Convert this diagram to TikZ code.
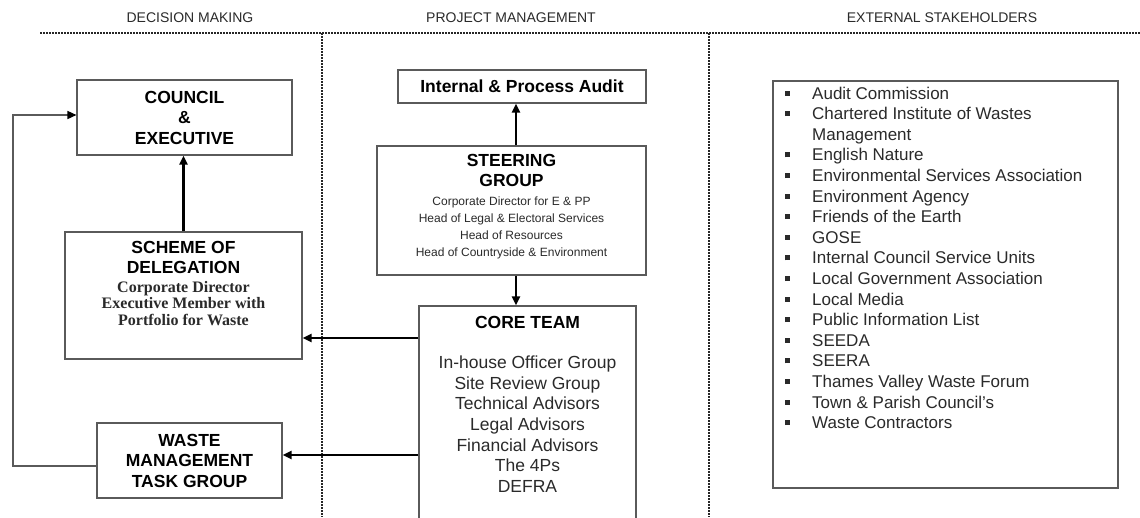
\documentclass[tikz,border=0pt]{standalone}
\usepackage{fontspec}
\setmainfont{Liberation Sans}
\newfontfamily\serifbf{Liberation Serif}
\usetikzlibrary{arrows.meta,calc}
\definecolor{boxgray}{HTML}{5A5A5A}
\definecolor{txtgray}{HTML}{2A2A2A}
\tikzset{
  box/.style={draw=boxgray, line width=1.1pt, rectangle, inner sep=0pt},
  bigtitle/.style={font=\bfseries\fontsize{17.5}{20.5}\selectfont, align=center, text=black, inner sep=0pt},
  plainlist/.style={font=\fontsize{17.5}{20.67}\selectfont, align=center, text=txtgray, inner sep=0pt},
  smalllist/.style={font=\fontsize{12}{17}\selectfont, align=center, text=txtgray, inner sep=0pt},
  serlist/.style={font=\serifbf\bfseries\fontsize{16}{16.5}\selectfont, align=center, text=txtgray, inner sep=0pt},
  header/.style={font=\fontsize{14}{16}\selectfont, text=txtgray, inner sep=0pt},
  sep/.style={draw=black!85, line width=1.4pt, dash pattern=on 2pt off 1pt},
  arr/.style={draw=black, line width=2.8pt, -{Triangle[length=9pt,width=8pt]}},
  fb/.style={draw=boxgray, line width=1.5pt, -{Triangle[length=9pt,width=8pt,fill=black,color=black]}},
}
\begin{document}
\begin{tikzpicture}[x=1pt,y=-1pt]
\useasboundingbox (0,0) rectangle (1140,517);
\clip (0,0) rectangle (1140,517);
\fill[white] (0,0) rectangle (1140,517);

% headers and separators
\node[header] (h1) at (190,18) {DECISION MAKING};
\node[header] (h2) at (511,18) {PROJECT MANAGEMENT};
\node[header] (h3) at (942,18) {EXTERNAL STAKEHOLDERS};
\coordinate (sL) at (40,33);
\coordinate (sR) at (1140,33);
\coordinate (v1t) at (322,33);
\coordinate (v1b) at (322,517);
\coordinate (v2t) at (709,33);
\coordinate (v2b) at (709,517);
\draw[sep] (sL) -- (sR);
\draw[sep] (v1t) -- (v1b);
\draw[sep] (v2t) -- (v2b);

% decision making column
\node[box, minimum width=215, minimum height=75] (council) at (184.5,117.5) {};
\node[bigtitle] (councilt) at (council.center) {COUNCIL\\\&\\EXECUTIVE};

\node[box, minimum width=237, minimum height=127] (scheme) at (183.5,295.5) {};
\node[bigtitle, font=\bfseries\fontsize{17.5}{20}\selectfont] (schemet) at (183.5,257) {SCHEME OF\\DELEGATION};
\node[serlist] (schemes) at (183.5,303.5) {Corporate Director\\Executive Member with\\Portfolio for Waste};

\node[box, minimum width=185, minimum height=75] (waste) at (189.5,460.5) {};
\node[bigtitle] (wastet) at (waste.center) {WASTE\\MANAGEMENT\\TASK GROUP};

% project management column
\node[box, minimum width=248, minimum height=33] (audit) at (522,86.5) {};
\node[bigtitle] (auditt) at (audit.center) {Internal \& Process Audit};

\node[box, minimum width=269, minimum height=129] (steer) at (511.5,210.5) {};
\node[bigtitle, font=\bfseries\fontsize{17.5}{20}\selectfont] (steert) at (511.5,170) {STEERING\\GROUP};
\node[smalllist] (steers) at (511.5,227.5) {Corporate Director for E \& PP\\Head of Legal \& Electoral Services\\Head of Resources\\Head of Countryside \& Environment};

\node[box, minimum width=217, minimum height=230] (core) at (527.5,421) {};
\node[bigtitle] (coret) at (527.5,322) {CORE TEAM};
\node[plainlist] (cores) at (527.5,424) {In-house Officer Group\\Site Review Group\\Technical Advisors\\Legal Advisors\\Financial Advisors\\The 4Ps\\DEFRA};

% external stakeholders column
\node[box, minimum width=345, minimum height=407] (ext) at (945.5,284.5) {};
\node[anchor=north west, inner sep=0pt, text=txtgray] (extl) at (785,84.5) {%
\fontsize{17}{20.6}\selectfont
\begin{tabular}{@{}p{27pt}@{}l@{}}
\raisebox{3.5pt}{\rule{5pt}{5pt}} & Audit Commission\\
\raisebox{3.5pt}{\rule{5pt}{5pt}} & Chartered Institute of Wastes\\
 & Management\\
\raisebox{3.5pt}{\rule{5pt}{5pt}} & English Nature\\
\raisebox{3.5pt}{\rule{5pt}{5pt}} & Environmental Services Association\\
\raisebox{3.5pt}{\rule{5pt}{5pt}} & Environment Agency\\
\raisebox{3.5pt}{\rule{5pt}{5pt}} & Friends of the Earth\\
\raisebox{3.5pt}{\rule{5pt}{5pt}} & GOSE\\
\raisebox{3.5pt}{\rule{5pt}{5pt}} & Internal Council Service Units\\
\raisebox{3.5pt}{\rule{5pt}{5pt}} & Local Government Association\\
\raisebox{3.5pt}{\rule{5pt}{5pt}} & Local Media\\
\raisebox{3.5pt}{\rule{5pt}{5pt}} & Public Information List\\
\raisebox{3.5pt}{\rule{5pt}{5pt}} & SEEDA\\
\raisebox{3.5pt}{\rule{5pt}{5pt}} & SEERA\\
\raisebox{3.5pt}{\rule{5pt}{5pt}} & Thames Valley Waste Forum\\
\raisebox{3.5pt}{\rule{5pt}{5pt}} & Town \& Parish Council's\\
\raisebox{3.5pt}{\rule{5pt}{5pt}} & Waste Contractors
\end{tabular}};

% connectors
\coordinate (ax) at (516,0);
\coordinate (y1) at (0,338);
\coordinate (y2) at (0,455);
\coordinate (yw) at (0,466);
\coordinate (yc) at (0,115);
\coordinate (fbx) at (13,0);
\draw[arr] (scheme.north) -- (scheme.north |- council.south);
\draw[arr] (ax |- steer.north) -- (ax |- audit.south);
\draw[arr] (ax |- steer.south) -- (ax |- core.north);
\draw[arr] (core.west |- y1) -- (scheme.east |- y1);
\draw[arr] (core.west |- y2) -- (waste.east |- y2);
\draw[fb] (waste.west |- yw) -- (fbx |- yw) -- (fbx |- yc) -- (council.west |- yc);
\end{tikzpicture}
\end{document}
